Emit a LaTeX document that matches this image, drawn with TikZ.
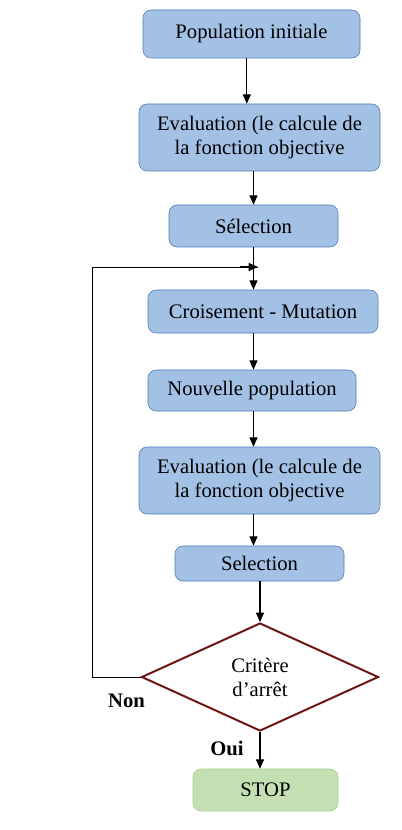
\documentclass[tikz,border=0pt]{standalone}
\usepackage{fontspec}
\setmainfont{Liberation Serif}
\usetikzlibrary{shapes.geometric,arrows.meta}
\definecolor{boxfill}{HTML}{A3C1E4}
\definecolor{boxline}{HTML}{4A7BB5}
\definecolor{stopfill}{HTML}{C4E0B2}
\definecolor{stopline}{HTML}{A8D08D}
\definecolor{critline}{HTML}{6E1616}

\begin{document}
\begin{tikzpicture}[x=0.75pt, y=-0.75pt,
  box/.style={draw=boxline, fill=boxfill, rounded corners=6pt, align=center,
    inner sep=0pt, font=\fontsize{15.5}{18}\selectfont},
  flow/.style={-{Triangle[length=7pt,width=6pt]}, line width=0.8pt},
  lbl/.style={font=\fontsize{15.5}{18}\selectfont\bfseries}]
\useasboundingbox (0,0) rectangle (402,830);
% boites
\node[box, minimum width=162.75pt, minimum height=36pt] (pop) at (251.5,34) {Population initiale};
\node[box, minimum width=180.75pt, minimum height=50.25pt] (evalA) at (259.5,137.5) {Evaluation (le calcule de\\la fonction objective};
\node[box, minimum width=126.75pt, minimum height=31.5pt] (selA) at (253.5,226) {Sélection};
\node[box, minimum width=172.5pt, minimum height=32.25pt] (crois) at (263,311.5) {Croisement - Mutation};
\node[box, minimum width=156pt, minimum height=30.75pt] (nouv) at (252,390.5) {Nouvelle population};
\node[box, minimum width=180.75pt, minimum height=50.25pt] (evalB) at (259.5,480.5) {Evaluation (le calcule de\\la fonction objective};
\node[box, minimum width=126.75pt, minimum height=26.25pt] (selB) at (259.5,563.5) {Selection};
\node[diamond, draw=critline, line width=1.5pt, fill=white, aspect=2.2, inner sep=0pt,
  minimum width=177.75pt, minimum height=81pt, align=center,
  font=\fontsize{15.5}{18}\selectfont] (crit) at (260,677) {Critère\\d’arrêt};
\node[box, draw=stopline, fill=stopfill, minimum width=108.75pt, minimum height=31.5pt] (stop) at (265.5,790) {STOP};
% fleches
\draw[flow] ([xshift=-3.5pt]pop.south) -- ([xshift=-3.5pt]pop.south |- evalA.north);
\draw[flow] (selA.south |- evalA.south) -- (selA.north);
\draw[flow] (selA.south) -- (selA.south |- crois.north);
\draw[flow] (selA.south |- crois.south) -- (selA.south |- nouv.north);
\draw[flow] (selA.south |- nouv.south) -- (selA.south |- evalB.north);
\draw[flow] (selA.south |- evalB.south) -- (selA.south |- selB.north);
\draw[flow] (crit.north |- selB.south) -- (crit.north);
\draw[flow] (crit.south) -- (crit.south |- stop.north);
% boucle
\coordinate (join) at (258,267);
\draw[line width=0.6pt] (crit.west) -- (92,677) -- (92,267) -- (join);
\draw[flow] (240,267) -- (join);
\node[lbl] (non) at (126.5,701) {Non};
\node[lbl] (oui) at (227,748) {Oui};
\end{tikzpicture}
\end{document}
